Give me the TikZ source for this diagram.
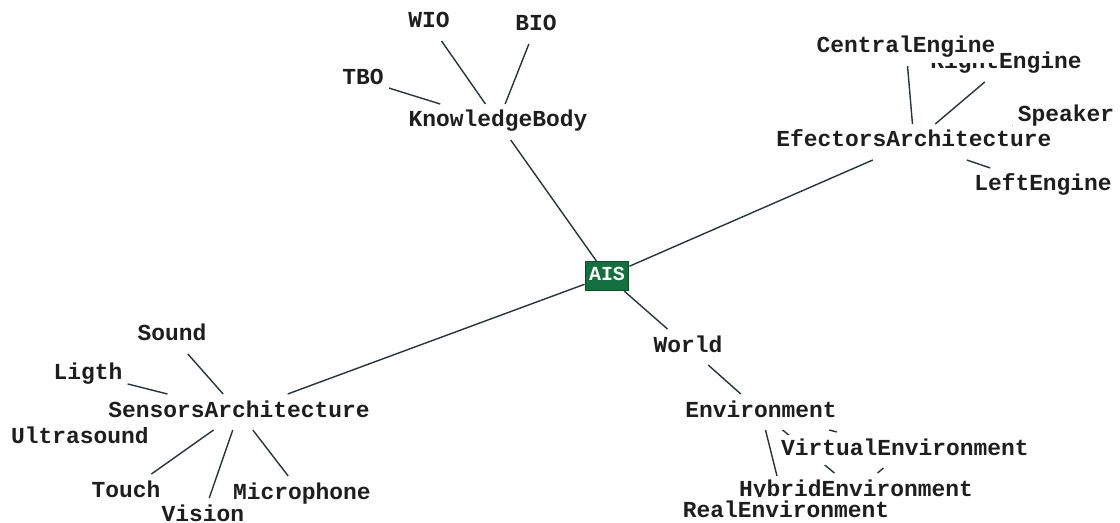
\documentclass[tikz,border=0pt]{standalone}
\usepackage{fontspec}
\setmonofont{Liberation Mono}
\definecolor{txt}{RGB}{30,30,30}
\definecolor{edge}{RGB}{38,52,62}
\definecolor{rootfill}{RGB}{20,112,62}
\definecolor{rootdraw}{RGB}{10,78,40}
\pgfdeclarelayer{bg}
\pgfsetlayers{bg,main}
\begin{document}
\begin{tikzpicture}[x=1bp,y=-1bp,
  lbl/.style={font=\ttfamily\bfseries\fontsize{23}{26}\selectfont, text=txt, fill=white,
    inner xsep=5bp, inner ysep=6bp, outer ysep=3bp, text height=14bp, text depth=4bp},
  rootbox/.style={font=\ttfamily\bfseries\fontsize{20}{24}\selectfont, text=white, fill=rootfill,
    draw=rootdraw, line width=1bp, inner xsep=4bp, minimum height=29bp, text height=12bp, text depth=2bp},
  lnk/.style={draw=edge, line width=1.4bp}]
\useasboundingbox (0,0) rectangle (1120,523);

% root
\node[rootbox] (ais) at (607,276) {AIS};

% knowledge body
\node[lbl] (kb) at (498,122) {KnowledgeBody};
\node[lbl] (tbo) at (363,80) {TBO};
\node[lbl] (wio) at (429,23) {WIO};
\node[lbl] (bio) at (536,26) {BIO};

% effectors
\node[lbl] (right) at (1006,64) {RightEngine};
\node[lbl] (central) at (906,48) {CentralEngine};
\node[lbl] (speaker) at (1066,117) {Speaker};
\node[lbl] (ea) at (914,142) {EfectorsArchitecture};
\node[lbl] (left) at (1043,186) {LeftEngine};

% world
\node[lbl] (world) at (688,347) {World};
\node[lbl] (env) at (761,412) {Environment};
\node[lbl] (virtual) at (905,450) {VirtualEnvironment};
\node[lbl] (hybrid) at (856,491) {HybridEnvironment};
\node[lbl] (real) at (786,512) {RealEnvironment};

% sensors
\node[lbl] (sound) at (172,336) {Sound};
\node[lbl] (ligth) at (88,374) {Ligth};
\node[lbl] (ultra) at (80,438) {Ultrasound};
\node[lbl] (sa) at (239,412) {SensorsArchitecture};
\node[lbl] (touch) at (126,492) {Touch};
\node[lbl] (vision) at (203,516) {Vision};
\node[lbl] (micro) at (302,494) {Microphone};

\begin{pgfonlayer}{bg}
\fill[white] (0,0) rectangle (1120,523);
\draw[lnk] (ais) -- (kb);
\draw[lnk] (ais) -- (ea);
\draw[lnk] (ais) -- (sa);
\draw[lnk] (ais) -- (world);
\draw[lnk] (kb) -- (tbo);
\draw[lnk] (kb) -- (wio);
\draw[lnk] (kb) -- (bio);
\draw[lnk] (ea) -- (central);
\draw[lnk] (ea) -- (right);
\draw[lnk] (ea) -- (speaker);
\draw[lnk] (ea) -- (left);
\draw[lnk] (world) -- (env);
\draw[lnk] (env) -- (virtual);
\draw[lnk] (env) -- (hybrid);
\draw[lnk] (env) -- (real);
\draw[lnk] (virtual) -- (hybrid);
\draw[lnk] (sa) -- (sound);
\draw[lnk] (sa) -- (ligth);
\draw[lnk] (sa) -- (ultra);
\draw[lnk] (sa) -- (touch);
\draw[lnk] (sa) -- (vision);
\draw[lnk] (sa) -- (micro);
\end{pgfonlayer}
\end{tikzpicture}
\end{document}
